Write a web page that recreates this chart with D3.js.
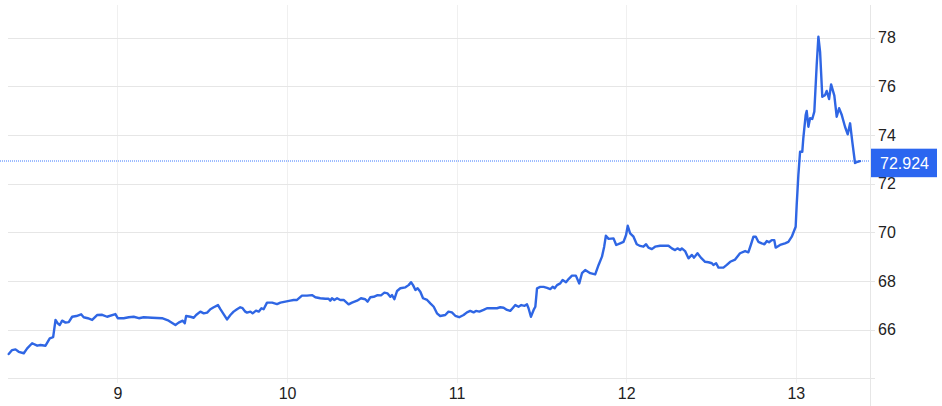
<!DOCTYPE html>
<html>
<head>
<meta charset="utf-8">
<script src="https://cdn.jsdelivr.net/npm/d3@7/dist/d3.min.js"></script>
<style>
html,body{margin:0;padding:0;background:#fff;}
svg{display:block;font-family:"Liberation Sans",Arial,sans-serif;}
</style>
</head>
<body>
<svg id="chart" width="942" height="406"></svg>
<script>
// ---- data (day of month, price) ----
const times = [
8.359,8.379,8.399,8.418,8.448,8.468,8.497,8.527,8.546,8.576,
8.601,8.621,8.635,8.648,8.660,8.674,8.694,8.713,8.733,8.758,
8.786,8.801,8.825,8.851,8.880,8.910,8.939,8.988,9.002,9.037,
9.067,9.096,9.126,9.155,
9.204,9.263,9.302,9.342,9.361,9.385,9.397,9.405,9.430,9.450,
9.464,9.489,9.509,9.529,9.548,9.568,9.593,9.607,9.627,9.646,
9.666,9.685,9.705,9.724,9.738,9.754,9.764,9.784,9.797,9.817,
9.833,9.849,9.862,9.882,9.912,9.941,9.961,9.990,10.019,10.039,
10.059,10.088,10.118,10.147,10.167,10.196,10.226,10.245,10.255,10.265,
10.279,10.295,10.314,10.334,10.363,10.383,10.413,10.436,10.461,10.475,
10.491,10.511,10.534,10.554,10.574,10.593,10.609,10.619,10.633,10.649,
10.668,10.698,10.717,10.731,10.743,10.757,10.770,10.786,10.802,10.826,
10.845,10.865,10.884,10.903,
10.933,10.952,10.972,10.992,11.015,11.041,11.061,11.080,11.100,11.114,
11.134,11.159,11.179,11.208,11.238,11.257,11.277,11.297,11.316,11.330,
11.346,11.365,11.381,11.401,11.415,11.424,11.438,11.454,11.464,11.474,
11.493,11.513,11.533,11.552,11.566,11.578,11.592,11.611,11.625,11.645,
11.660,11.680,11.703,11.723,11.739,11.758,
11.788,11.817,11.837,11.857,11.870,11.880,11.896,11.925,11.941,11.964,
11.984,11.999,12.009,12.023,12.043,12.062,12.082,12.101,12.117,12.131,
12.151,12.170,12.200,12.249,12.269,12.288,12.302,12.318,12.328,12.347,
12.367,12.387,12.400,12.420,12.440,12.465,12.485,12.505,12.514,12.530,
12.544,12.573,12.593,12.613,
12.642,12.671,12.701,12.720,12.736,12.750,12.764,12.779,12.799,12.815,
12.829,12.842,12.858,12.873,12.881,12.907,12.936,12.956,12.976,12.999,
13.005,13.015,13.025,13.038,13.044,13.058,13.064,13.074,13.084,13.097,
13.109,13.123,13.133,13.143,13.156,13.172,13.182,13.196,13.208,13.227,
13.241,13.255,13.271,13.290,13.306,13.320,13.333,13.349,13.365,13.378
];
const prices = [
65.00,65.16,65.19,65.09,65.03,65.23,65.44,65.34,65.37,65.34,
65.64,65.69,66.40,66.26,66.19,66.37,66.29,66.31,66.53,66.56,
66.63,66.51,66.47,66.40,66.60,66.61,66.53,66.64,66.47,66.47,
66.51,66.53,66.47,66.51,
66.49,66.47,66.37,66.19,66.29,66.37,66.26,66.56,66.53,66.49,
66.60,66.74,66.67,66.70,66.84,66.92,67.01,66.84,66.63,66.42,
66.60,66.74,66.84,66.92,66.88,66.74,66.70,66.74,66.67,66.78,
66.74,66.88,66.84,67.11,67.11,67.05,67.11,67.15,67.19,67.22,
67.22,67.40,67.40,67.42,67.33,67.29,67.27,67.27,67.19,67.29,
67.22,67.29,67.22,67.22,67.04,67.11,67.19,67.29,67.25,67.15,
67.33,67.35,67.42,67.41,67.52,67.49,67.35,67.42,67.25,67.59,
67.70,67.74,67.83,67.95,67.83,67.63,67.70,67.56,67.29,67.22,
67.08,66.94,66.67,66.56,
66.60,66.74,66.71,66.57,66.51,66.60,66.71,66.77,66.71,66.77,
66.74,66.81,66.88,66.88,66.88,66.92,66.90,66.81,66.77,66.88,
67.01,66.94,67.01,66.98,67.04,66.88,66.53,66.81,66.94,67.70,
67.76,67.76,67.72,67.67,67.76,67.70,67.83,67.90,68.04,67.95,
68.08,68.22,68.22,67.90,68.32,68.45,
68.32,68.27,68.66,69.00,69.41,69.86,69.73,69.75,69.48,69.55,
69.61,69.89,70.27,69.96,69.82,69.51,69.44,69.41,69.51,69.37,
69.31,69.41,69.45,69.45,69.34,69.27,69.34,69.27,69.34,69.23,
68.93,69.07,68.96,69.14,68.96,68.79,68.77,68.73,68.66,68.73,
68.55,68.55,68.66,68.79,
68.88,69.14,69.23,69.18,69.51,69.82,69.82,69.61,69.55,69.51,
69.64,69.59,69.68,69.68,69.37,69.48,69.55,69.61,69.82,70.23,
71.12,72.36,73.31,73.31,73.86,74.82,74.99,74.34,74.69,74.66,
74.96,76.88,78.04,77.42,75.57,75.64,75.81,75.48,76.08,75.62,
74.75,75.10,74.82,74.34,74.03,74.48,73.72,72.85,72.90,72.924
];
const xTicks = [9, 10, 11, 12, 13];
const xTickLabels = ["9", "10", "11", "12", "13"];
const yTicks = [66, 68, 70, 72, 74, 76, 78];
const lastPrice = 72.924;
const lastPriceLabel = "72.924";

// ---- layout ----
const W = 942, H = 406;
const plotLeft = 8, plotRight = 870, gridRight = 875, plotTop = 5;
const lineColor = "#2f66e4";
const labelColor = "#2b66f0";
const gridColor = "#e6e6e6";
const vGridColor = "#f0f0f0";
const textColor = "#222";

const x = d3.scaleLinear().domain([8.3548, 13.4373]).range([plotLeft, plotRight]);
const y = d3.scaleLinear().domain([64, 78]).range([378.3, 37.7]);

const svg = d3.select("#chart");
const data = times.map((t, i) => ({t, v: prices[i]}));

// vertical grid
svg.append("g").selectAll("line").data(xTicks).join("line")
  .attr("x1", d => Math.round(x(d)) + 0.5).attr("x2", d => Math.round(x(d)) + 0.5)
  .attr("y1", plotTop).attr("y2", Math.round(y(64)) + 5)
  .attr("stroke", vGridColor).attr("stroke-width", 1);

// horizontal grid
svg.append("g").selectAll("line").data(yTicks).join("line")
  .attr("x1", plotLeft).attr("x2", gridRight)
  .attr("y1", d => Math.round(y(d)) + 0.5).attr("y2", d => Math.round(y(d)) + 0.5)
  .attr("stroke", gridColor).attr("stroke-width", 1);

// bottom baseline
svg.append("line")
  .attr("x1", plotLeft).attr("x2", gridRight)
  .attr("y1", Math.round(y(64)) + 0.5).attr("y2", Math.round(y(64)) + 0.5)
  .attr("stroke", gridColor).attr("stroke-width", 1);

// right separator
svg.append("line")
  .attr("x1", plotRight + 0.5).attr("x2", plotRight + 0.5)
  .attr("y1", plotTop).attr("y2", H)
  .attr("stroke", gridColor).attr("stroke-width", 1);

// y axis labels
const yAxis = svg.append("g")
  .attr("transform", `translate(${plotRight},0)`)
  .call(d3.axisRight(y).tickValues(yTicks).tickSize(0).tickPadding(8).tickFormat(d3.format("d")));
yAxis.select(".domain").remove();
yAxis.selectAll("text").attr("fill", textColor).style("font-size", "16px")
  .style("font-family", "'Liberation Sans', Arial, sans-serif");

// x axis labels
const xAxis = svg.append("g")
  .attr("transform", `translate(0,${Math.round(y(64))})`)
  .call(d3.axisBottom(x).tickValues(xTicks).tickSize(0).tickPadding(10)
    .tickFormat((d, i) => xTickLabels[i]));
xAxis.select(".domain").remove();
xAxis.selectAll("text").attr("fill", textColor).style("font-size", "16px")
  .style("font-family", "'Liberation Sans', Arial, sans-serif");

// last price dotted line
svg.append("line")
  .attr("x1", 0).attr("x2", plotRight)
  .attr("y1", Math.round(y(lastPrice))).attr("y2", Math.round(y(lastPrice)))
  .attr("stroke", "#3a78ff").attr("stroke-width", 1).attr("stroke-dasharray", "1,1");

// price line
const line = d3.line().x(d => x(d.t)).y(d => y(d.v)).curve(d3.curveLinear);
svg.append("path").datum(data)
  .attr("d", line).attr("fill", "none")
  .attr("stroke", lineColor).attr("stroke-width", 2.4)
  .attr("stroke-linejoin", "round").attr("stroke-linecap", "round");

// last price label
const ly = y(lastPrice);
svg.append("rect")
  .attr("x", plotRight + 1).attr("y", ly - 12.5).attr("width", 66).attr("height", 28.5)
  .attr("fill", labelColor);
svg.append("text")
  .attr("x", plotRight + 10).attr("y", ly + 2).attr("dy", "0.35em")
  .attr("fill", "#fff").style("font-size", "16px")
  .text(lastPriceLabel);
</script>
</body>
</html>
